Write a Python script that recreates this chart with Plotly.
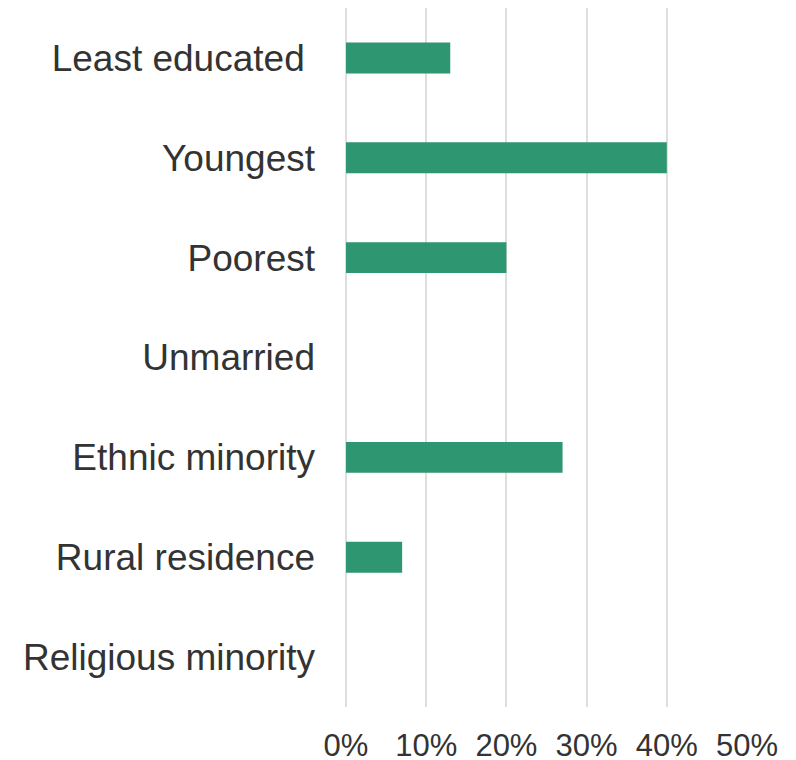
import plotly.graph_objects as go

categories = ["Least educated ", "Youngest", "Poorest", "Unmarried",
              "Ethnic minority", "Rural residence", "Religious minority"]
values = [13, 40, 20, 0, 27, 7, 0]
tick_vals = [0, 10, 20, 30, 40, 50]
tick_labels = ["0%", "10%", "20%", "30%", "40%", "50%"]

fig = go.Figure(go.Bar(
    x=values, y=categories, orientation="h", width=0.31,
    marker=dict(color="#2e9670", line=dict(width=0)),
))

fig.update_layout(
    width=796, height=760,
    margin=dict(l=338, r=57, t=0, b=61, autoexpand=False),
    plot_bgcolor="white", paper_bgcolor="white",
    font=dict(family="Liberation Sans, Arial, sans-serif", color="#333333"),
    showlegend=False,
)
fig.update_xaxes(
    range=[0, 50], tickvals=tick_vals, ticktext=tick_labels,
    showgrid=True, gridcolor="#dedede", gridwidth=2,
    zeroline=True, zerolinecolor="#dedede", zerolinewidth=2,
    showline=False, ticks="", ticklabelstandoff=17, automargin=False,
    tickfont=dict(size=31, color="#333333"),
)
fig.update_yaxes(
    categoryorder="array", categoryarray=categories, autorange="reversed",
    tickvals=categories, ticktext=[c.replace(" ", "\u00a0") if c.endswith(" ") else c for c in categories],
    showgrid=False, zeroline=False, showline=False, ticks="",
    ticklabelstandoff=30, automargin=False,
    tickfont=dict(size=37, color="#333333"),
)

fig.write_html("out.html")
